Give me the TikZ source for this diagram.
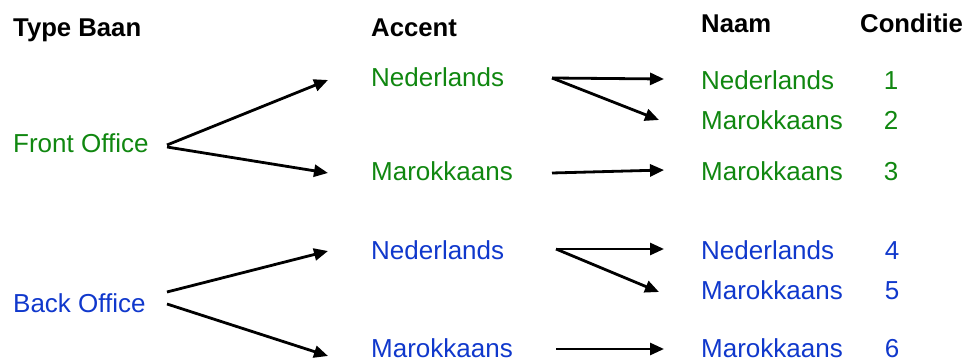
\documentclass[tikz,border=0pt]{standalone}
\usepackage{fontspec}
\setmainfont{Liberation Sans}
\usetikzlibrary{arrows.meta}
\definecolor{tgreen}{RGB}{16,135,16}
\definecolor{tblue}{RGB}{16,56,204}
\begin{document}
\begin{tikzpicture}[x=1pt,y=-1pt,
  txt/.style={anchor=base west,inner sep=0pt,font=\fontsize{26}{30}\selectfont},
  head/.style={txt,font=\fontsize{25.7}{30}\selectfont\bfseries,text=black},
  gr/.style={txt,text=tgreen},
  bl/.style={txt,text=tblue},
  low/.style={text depth=0pt},
  num/.style={anchor=base,inner sep=0pt,font=\fontsize{26}{30}\selectfont},
  arr/.style={line width=2.8pt,-{Triangle[length=14pt,width=12pt]},black}]
\useasboundingbox (0,0) rectangle (970,361);
% headers
\node[head] (h1) at (13,37) {Type Baan};
\node[head] (h2) at (371,37) {Accent};
\node[head] (h3) at (701,33) {Naam};
\node[head] (h4) at (860,33) {Conditie};
% type baan
\node[gr] (fo) at (13,153) {Front Office};
\node[bl] (bo) at (13,312) {Back Office};
% accent
\node[gr] (an1) at (371,87) {Nederlands};
\node[gr] (am1) at (371,180) {Marokkaans};
\node[bl] (an2) at (371,259) {Nederlands};
\node[bl,low] (am2) at (371,357) {Marokkaans};
% naam
\node[gr] (n1) at (701,89) {Nederlands};
\node[gr] (n2) at (701,129) {Marokkaans};
\node[gr] (n3) at (701,180) {Marokkaans};
\node[bl] (n4) at (701,259) {Nederlands};
\node[bl] (n5) at (701,299) {Marokkaans};
\node[bl,low] (n6) at (701,357) {Marokkaans};
% conditie
\node[num,text=tgreen] (c1) at (891,89) {1};
\node[num,text=tgreen] (c2) at (891,129) {2};
\node[num,text=tgreen] (c3) at (891,180) {3};
\node[num,text=tblue] (c4) at (892,259) {4};
\node[num,text=tblue] (c5) at (892,299) {5};
\node[num,text=tblue,low] (c6) at (892,357) {6};
% connector end points
\coordinate (foA) at (167,145);
\coordinate (foB) at (167,147);
\coordinate (an1in) at (328,80);
\coordinate (am1in) at (328,173);
\coordinate (an1out) at (552,78);
\coordinate (am1out) at (552,173);
\coordinate (n1in) at (664,79);
\coordinate (n2in) at (659,120);
\coordinate (n3in) at (664,170);
\coordinate (boA) at (167,292);
\coordinate (boB) at (167,304);
\coordinate (an2in) at (328,251);
\coordinate (am2in) at (328,356);
\coordinate (an2out) at (556,249);
\coordinate (am2out) at (556,349);
\coordinate (n4in) at (664,249);
\coordinate (n5in) at (659,292);
\coordinate (n6in) at (664,349);
% connectors
\draw[arr] (foA) -- (an1in);
\draw[arr] (foB) -- (am1in);
\draw[arr] (an1out) -- (n1in);
\draw[arr] (an1out) -- (n2in);
\draw[arr] (am1out) -- (n3in);
\draw[arr] (boA) -- (an2in);
\draw[arr] (boB) -- (am2in);
\draw[arr] (an2out) -- (n4in);
\draw[arr] (an2out) -- (n5in);
\draw[arr] (am2out) -- (n6in);
\end{tikzpicture}
\end{document}
